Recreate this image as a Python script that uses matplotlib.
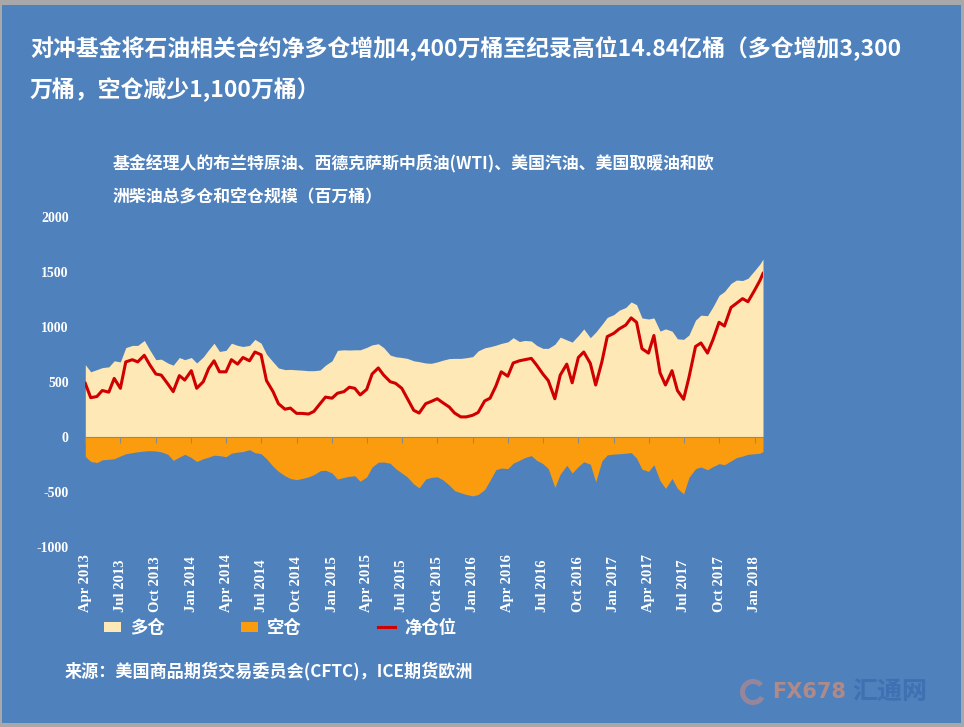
import matplotlib
matplotlib.use("Agg")
import matplotlib.pyplot as plt
import matplotlib.transforms as mtransforms
from matplotlib.patches import Rectangle, Wedge
from matplotlib.font_manager import FontProperties
import pandas as pd

CJK = ["Noto Sans CJK SC", "DejaVu Sans"]
plt.rcParams["font.family"] = CJK
plt.rcParams["axes.unicode_minus"] = False

title_lines = ["对冲基金将石油相关合约净多仓增加4,400万桶至纪录高位14.84亿桶（多仓增加3,300",
               "万桶，空仓减少1,100万桶）"]
subtitle_lines = ["基金经理人的布兰特原油、西德克萨斯中质油(WTI)、美国汽油、美国取暖油和欧",
                  "洲柴油总多仓和空仓规模（百万桶）"]
source = "来源：美国商品期货交易委员会(CFTC)，ICE期货欧洲"
legend_labels = ["多仓", "空仓", "净仓位"]

dates = list(pd.date_range("2013-04-01", "2018-01-15", freq="SMS")) + [pd.Timestamp("2018-01-23")]

long_pos = [655, 590, 610, 628, 635, 690, 680, 810, 830, 830,
            875, 790, 700, 705, 670, 650, 720, 700, 720, 670,
            725, 790, 850, 775, 785, 850, 830, 820, 830,
            885, 850, 750, 680, 625, 610, 612, 608, 605, 600, 600,
            606, 650, 690, 785, 790, 788, 790, 790, 812, 835,
            845, 810, 742, 727, 720, 712, 690, 682,
            670, 667, 680, 695, 710, 712, 712, 718, 728, 780,
            808, 818, 832, 848, 862, 900, 865, 875, 870, 830,
            803, 803, 840, 905, 880, 860, 920, 980, 900,
            950, 1020, 1085, 1110, 1150, 1175, 1225, 1200, 1080, 1070,
            1080, 960, 980, 960, 890, 885, 925, 1060, 1105, 1100,
            1180, 1285, 1320, 1394, 1424, 1420, 1440, 1510, 1570,
            1615]

short_pos = [-180, -225, -235, -210, -205, -200, -175, -155, -145, -137,
             -130, -127, -130, -138, -160, -215, -185, -160, -190, -225,
             -200, -185, -168, -172, -182, -150, -140, -135, -118,
             -145, -155, -200, -270, -315, -355, -380, -390, -380, -365, -345,
             -310, -305, -330, -385, -370, -360, -355, -405, -365, -275,
             -232, -230, -242, -290, -330, -365, -430, -465,
             -385, -370, -365, -390, -440, -490, -510, -525, -538, -525,
             -480, -395, -300, -285, -290, -240, -215, -190, -172, -215,
             -245, -290, -460, -340, -260, -330, -270, -228, -250,
             -410, -220, -165, -158, -155, -150, -145, -195, -295, -315,
             -255, -400, -470, -380, -470, -520, -370, -290, -275, -300,
             -272, -245, -255, -220, -190, -176, -160, -155, -150,
             -135]

net_pos = [485, 355, 365, 420, 405, 530, 440, 680, 700, 680,
           740, 655, 570, 560, 480, 410, 555, 515, 600, 440,
           500, 620, 690, 590, 590, 700, 660, 720, 690,
           770, 745, 510, 410, 300, 250, 260, 212, 212, 206, 230,
           300, 360, 350, 395, 410, 450, 440, 380, 430, 570,
           625, 560, 500, 485, 440, 350, 240, 215,
           300, 320, 345, 310, 270, 215, 180, 180, 195, 220,
           325, 350, 460, 590, 550, 670, 690, 700, 712, 650,
           570, 510, 345, 560, 660, 490, 720, 770, 667,
           470, 680, 910, 940, 980, 1015, 1080, 1040, 800, 760,
           920, 580, 470, 600, 420, 340, 540, 820, 852, 760,
           880, 1040, 1006, 1175, 1212, 1255, 1227, 1330, 1420,
           1484]

BG = "#4f81bd"
LONG_C = "#fde8b6"
SHORT_C = "#fb9c0e"
NET_C = "#d00000"
W, H = 964, 727

fig = plt.figure(figsize=(W / 100, H / 100), dpi=100, facecolor="#a8a8a8")
fig.add_artist(Rectangle((2 / W, 1 - 723 / H), 959 / W, 718 / H, transform=fig.transFigure,
                         facecolor=BG, edgecolor="none", zorder=0))

ax = fig.add_axes([85.3 / W, 1 - 546.7 / H, 677.7 / W, 330 / H])
ax.patch.set_visible(False)
ax.fill_between(dates, 0, long_pos, color=LONG_C, lw=0, label=legend_labels[0])
ax.fill_between(dates, 0, short_pos, color=SHORT_C, lw=0, label=legend_labels[1])
ax.plot(dates, net_pos, color=NET_C, lw=2.2, label=legend_labels[2])

ax.set_xlim(dates[0], dates[-1])
ax.set_ylim(-1000, 2000)
ax.set_yticks(range(-1000, 2001, 500))
for s in ["top", "right", "left"]:
    ax.spines[s].set_visible(False)
ax.spines["bottom"].set_position(("data", 0))
ax.spines["bottom"].set_color("#8a8a8a")
ax.spines["bottom"].set_linewidth(0.8)

quarters = pd.date_range("2013-04-01", "2018-01-01", freq="QS")
ax.set_xticks(quarters)
ax.tick_params(axis="x", length=4, width=0.8, color="#8a8a8a", labelbottom=False)
ax.tick_params(axis="y", length=0, pad=12, labelcolor="white", labelsize=10)
for lbl in ax.get_yticklabels():
    lbl.set_family("Liberation Serif")
    lbl.set_weight("bold")

blend = mtransforms.blended_transform_factory(ax.transData, fig.transFigure)
for q in quarters:
    ax.text(q, 1 - 612 / H, q.strftime("%b %Y"), transform=blend, rotation=90,
            ha="center", va="bottom", color="white", fontsize=10.5,
            family="Liberation Serif", weight="bold")

# titles and source
for i, line in enumerate(title_lines):
    fig.text(30 / W, 1 - (48 + 42 * i) / H, line, color="white", fontsize=16.5,
             weight="bold", va="center", ha="left")
for i, line in enumerate(subtitle_lines):
    fig.text(113 / W, 1 - (163 + 34 * i) / H, line, color="white", fontsize=12.2,
             weight="bold", va="center", ha="left")
fig.text(65 / W, 1 - 671 / H, source, color="white", fontsize=12.3,
         weight="bold", va="center", ha="left")

fig.legend(*ax.get_legend_handles_labels(), loc="center left",
           bbox_to_anchor=(95 / W, 1 - 628 / H), ncol=3, frameon=False,
           prop=FontProperties(family=CJK, weight="bold", size=12.5),
           labelcolor="white", handlelength=1.0, handleheight=0.5,
           handletextpad=0.5, columnspacing=4.4, borderpad=0)

# watermark
fig.add_artist(Wedge((7.53, (H - 692) / 100), 0.13, 40, 330, width=0.05,
                     transform=fig.dpi_scale_trans, facecolor="#c58a86",
                     edgecolor="none", alpha=0.6))
fig.text(772 / W, 1 - 692 / H, "FX678", color="#cf8e78", alpha=0.75, fontsize=15,
         weight="bold", va="center", ha="left", family="DejaVu Sans")
fig.text(852 / W, 1 - 692 / H, "汇通网", color="#3e70b2", fontsize=18,
         weight="bold", va="center", ha="left")

fig.savefig("out.png", dpi=100, facecolor=fig.get_facecolor())
